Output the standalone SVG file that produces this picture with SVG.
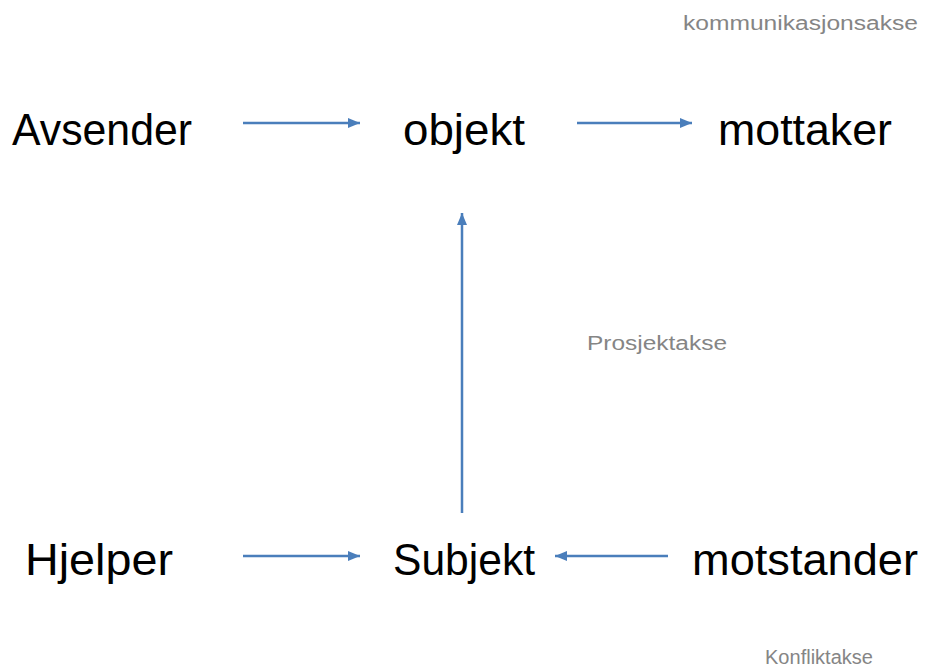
<svg xmlns="http://www.w3.org/2000/svg" width="925" height="668" viewBox="0 0 925 668">
  <style>
    .big { font-family: "Liberation Sans", Arial, sans-serif; font-size: 44px; fill: #000; }
    .axis { font-family: "Liberation Sans", Arial, sans-serif; font-size: 20px; fill: #858585; }
    .conn { stroke: #4a7ebb; stroke-width: 2.5; fill: none; marker-end: url(#ah); }
  </style>
  <defs>
    <marker id="ah" markerUnits="userSpaceOnUse" markerWidth="13" markerHeight="13" viewBox="0 0 13 13" refX="12" refY="6.5" orient="auto">
      <path d="M0,1.5 L12,6.5 L0,11.5 Z" fill="#4a7ebb"/>
    </marker>
  </defs>
  <rect width="925" height="668" fill="#ffffff"/>

  <g id="label-kommunikasjonsakse"><text class="axis" x="683" y="30" textLength="235" lengthAdjust="spacingAndGlyphs">kommunikasjonsakse</text></g>
  <g id="label-prosjektakse"><text class="axis" x="587" y="350" textLength="140" lengthAdjust="spacingAndGlyphs">Prosjektakse</text></g>
  <g id="label-konfliktakse"><text class="axis" x="765" y="664" textLength="108" lengthAdjust="spacingAndGlyphs">Konfliktakse</text></g>

  <g id="node-avsender"><text class="big" x="12" y="145" textLength="180" lengthAdjust="spacingAndGlyphs">Avsender</text></g>
  <g id="node-objekt"><text class="big" x="403" y="145" textLength="122" lengthAdjust="spacingAndGlyphs">objekt</text></g>
  <g id="node-mottaker"><text class="big" x="718" y="145" textLength="174" lengthAdjust="spacingAndGlyphs">mottaker</text></g>
  <g id="node-hjelper"><text class="big" x="25" y="575" textLength="148" lengthAdjust="spacingAndGlyphs">Hjelper</text></g>
  <g id="node-subjekt"><text class="big" x="393" y="575" textLength="142" lengthAdjust="spacingAndGlyphs">Subjekt</text></g>
  <g id="node-motstander"><text class="big" x="692" y="575" textLength="226" lengthAdjust="spacingAndGlyphs">motstander</text></g>

  <g id="connectors">
    <line class="conn" x1="243" y1="123" x2="360" y2="123"/>
    <line class="conn" x1="577" y1="123" x2="692" y2="123"/>
    <line class="conn" x1="243" y1="556" x2="360" y2="556"/>
    <line class="conn" x1="668" y1="556" x2="555" y2="556"/>
    <line class="conn" x1="462" y1="513" x2="462" y2="213"/>
  </g>
</svg>
